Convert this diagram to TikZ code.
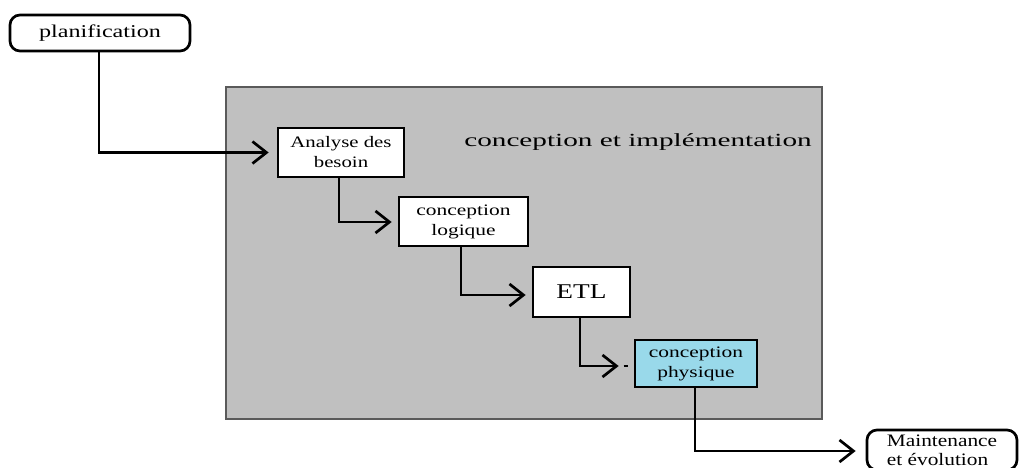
\documentclass[tikz,border=0pt]{standalone}
\usepackage{fontspec}
\setmainfont{Liberation Serif}
\newfontfamily\fA[FakeStretch=1.22]{Liberation Serif}
\newfontfamily\fB[FakeStretch=1.3]{Liberation Serif}
\newfontfamily\fC[FakeStretch=1.34]{Liberation Serif}
\newfontfamily\fD[FakeStretch=1.58]{Liberation Serif}
\usetikzlibrary{arrows.meta}
\definecolor{bggray}{HTML}{C0C0C0}
\definecolor{phblue}{HTML}{99D9EA}
\definecolor{frameedge}{HTML}{5A5A5A}
\begin{document}
\begin{tikzpicture}[x=1pt,y=-1pt,
  box/.style={draw=black,line width=2.7pt,fill=white,inner sep=0pt,align=center},
  rbox/.style={box,rounded corners=10pt},
  conn/.style={line width=2.7pt,-{Straight Barb[length=14pt,width=22pt]}},
]
\clip (0,0) rectangle (1019,467);
\fill[white] (0,0) rectangle (1019,467);

\node[draw=frameedge,line width=1.3pt,fill=bggray,minimum width=596pt,minimum height=332pt,inner sep=0pt] (bg) at (524,253) {};
\node[inner sep=0pt,font=\fD\fontsize{18.5}{22}\selectfont] (title) at (638,142) {conception et implémentation};

\node[rbox,minimum width=180pt,minimum height=36pt,font=\fC\fontsize{18}{22}\selectfont] (plan) at (100,33) {planification};
\node[box,minimum width=126pt,minimum height=49pt,font=\fB\fontsize{16}{20}\selectfont] (anal) at (341,152.5) {Analyse des\\besoin};
\node[box,minimum width=129pt,minimum height=49pt,font=\fC\fontsize{16}{20}\selectfont] (logi) at (463.5,221.5) {conception\\logique};
\node[box,minimum width=97pt,minimum height=50pt,font=\fB\fontsize{21}{25}\selectfont] (etl) at (581.5,292) {ETL};
\node[box,fill=phblue,minimum width=122pt,minimum height=47pt,font=\fC\fontsize{16}{20}\selectfont] (phys) at (696,363.5) {conception\\physique};
\node[rbox,align=left,minimum width=150pt,minimum height=40pt,font=\fA\fontsize{17.5}{19}\selectfont] (maint) at (942,450) {Maintenance\\et évolution};

\draw[conn,shorten >=8pt] ([xshift=-1pt]plan.south) |- (anal.west);
\draw[conn,shorten >=6pt] ([xshift=-2pt]anal.south) |- ([yshift=-0.5pt]logi.west);
\draw[conn,shorten >=6pt] ([xshift=-2.5pt]logi.south) |- ([yshift=-3pt]etl.west);
\draw[conn,shorten >=15pt] ([xshift=-1.5pt]etl.south) |- ([yshift=-2.5pt]phys.west);
\draw[line width=1.5pt] ([xshift=-10pt,yshift=-2.5pt]phys.west) -- ([xshift=-6pt,yshift=-2.5pt]phys.west);
\draw[conn,shorten >=10pt] ([xshift=-1pt]phys.south) |- ([yshift=-1pt]maint.west);
\end{tikzpicture}
\end{document}
